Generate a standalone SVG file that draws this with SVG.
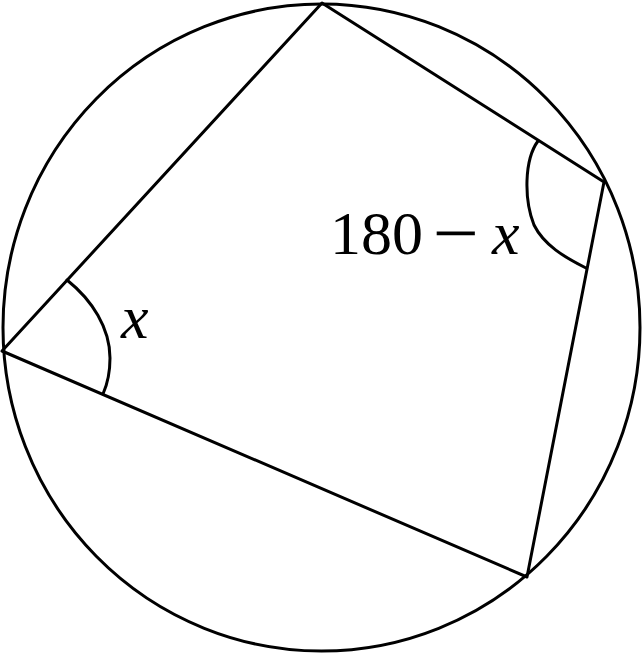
<svg xmlns="http://www.w3.org/2000/svg" width="642" height="654" viewBox="0 0 642 654">
<style>
.s{fill:none;stroke:#000;stroke-width:3;stroke-linejoin:round;stroke-linecap:round}
.t{font-family:"Liberation Serif","DejaVu Serif",serif;font-size:62px;fill:#000}
.i{font-style:italic}
.m{stroke:#000;stroke-width:0.5}
</style>
<rect width="642" height="654" fill="#fff"/>
<g id="circle"><ellipse class="s" cx="321.5" cy="327.5" rx="318.5" ry="323.5"/></g>
<g id="connectors">
<polygon class="s" points="322,3 604,182 527,577 2,351"/>
</g>
<g id="angle-x">
<path class="s" d="M67,280 C92,300 110,328 110,358 C110,374 107,385 103,394"/>
<text class="t i" x="121" y="338">x</text>
</g>
<g id="angle-180-x">
<path class="s" d="M538,141 C524,160 524,200 534,225 C544,245 564,257 586,268"/>
<text class="t" x="330" y="254">180</text>
<text class="t m" transform="translate(433,254) scale(1.3,1)">−</text>
<text class="t i" x="492" y="254">x</text>
</g>
</svg>
